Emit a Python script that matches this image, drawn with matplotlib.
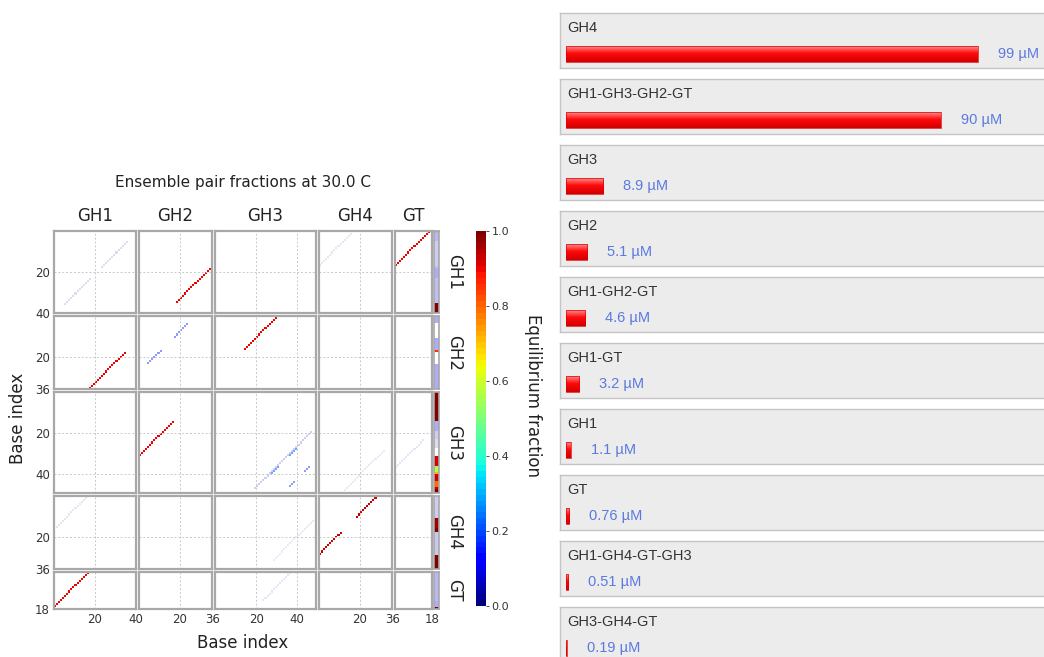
import numpy as np
import matplotlib.pyplot as plt
from matplotlib.cm import ScalarMappable
from matplotlib.colors import Normalize
from matplotlib.patches import Rectangle

# strands in the test tube and their lengths (nt)
strands = ["GH1", "GH2", "GH3", "GH4", "GT"]
lengths = [40, 36, 49, 36, 18]
ticks = [[20, 40], [20, 36], [20, 40], [20, 36], [18]]

# helices: (strand a, first base on a, strand b, last base on b, length, pair fraction)
helices = [
    ("GH1", 1, "GT", 17, 17, 0.9),
    ("GH1", 18, "GH2", 36, 18, 0.9),
    ("GH2", 1, "GH3", 31, 17, 0.9),
    ("GH4", 1, "GH4", 29, 11, 0.93),
    ("GH1", 6, "GH1", 36, 13, 0.03),
    ("GH1", 2, "GH4", 16, 16, 0.02),
    ("GH2", 5, "GH2", 24, 7, 0.15),
    ("GH3", 20, "GH3", 47, 14, 0.05),
    ("GH3", 28, "GH3", 40, 4, 0.22),
    ("GH3", 37, "GH3", 46, 3, 0.15),
    ("GH3", 24, "GT", 14, 14, 0.02),
    ("GH4", 13, "GH3", 48, 20, 0.015),
]

# complex concentrations (uM)
complexes = ["GH4", "GH1-GH3-GH2-GT", "GH3", "GH2", "GH1-GH2-GT",
             "GH1-GT", "GH1", "GT", "GH1-GH4-GT-GH3", "GH3-GH4-GT"]
conc = [99, 90, 8.9, 5.1, 4.6, 3.2, 1.1, 0.76, 0.51, 0.19]
conc_labels = ["99 µM", "90 µM", "8.9 µM", "5.1 µM", "4.6 µM",
               "3.2 µM", "1.1 µM", "0.76 µM", "0.51 µM", "0.19 µM"]

W, H = 1044, 657
fig = plt.figure(figsize=(W / 100, H / 100), dpi=100)


def box(x, y, w, h):
    return [x / W, 1 - (y + h) / H, w / W, h / H]


# ---- pair fraction matrix ----
offs = dict(zip(strands, np.cumsum([0] + lengths[:-1])))
N = sum(lengths)
P = np.zeros((N, N))
for a, sa, b, eb, n, p in helices:
    for k in range(n):
        i = offs[a] + sa - 1 + k
        j = offs[b] + eb - 1 - k
        P[i, j] = P[j, i] = p
unpaired = np.clip(1 - P.sum(axis=1), 0, 1)

cmap = plt.get_cmap("jet", 64)
norm = Normalize(0, 1)


def to_rgba(v):
    c = cmap(norm(v))
    c[..., 3] = np.clip(v / 0.5, 0, 1) ** 0.7
    return c


rgba = to_rgba(P)
strip = to_rgba(unpaired)

s = 2.045
gap = 3
x0, y0 = 54, 231
pos = [0]
for L in lengths[:-1]:
    pos.append(pos[-1] + L * s + gap)

frame = "#a8a8a8"
for r, (nr, Lr) in enumerate(zip(strands, lengths)):
    for c, (nc, Lc) in enumerate(zip(strands, lengths)):
        ax = fig.add_axes(box(x0 + pos[c], y0 + pos[r], Lc * s, Lr * s))
        blk = rgba[offs[nr]:offs[nr] + Lr, offs[nc]:offs[nc] + Lc]
        ax.imshow(blk, extent=(0, Lc, Lr, 0), interpolation="nearest", aspect="auto")
        ax.set_xlim(0, Lc)
        ax.set_ylim(Lr, 0)
        ax.set_xticks(ticks[c])
        ax.set_yticks(ticks[r])
        ax.grid(True, ls=(0, (2, 2)), color="#c8c8c8", lw=0.7)
        ax.tick_params(length=0, labelsize=8.5, colors="#333333", pad=3)
        if r != len(strands) - 1:
            ax.set_xticklabels([])
        if c != 0:
            ax.set_yticklabels([])
        for sp in ax.spines.values():
            sp.set_color(frame)
            sp.set_linewidth(1.6)
    # unpaired fraction strip next to each row
    sx = fig.add_axes(box(434, y0 + pos[r], 5, Lr * s))
    sx.imshow(strip[offs[nr]:offs[nr] + Lr, None], extent=(0, 1, Lr, 0),
              interpolation="nearest", aspect="auto")
    sx.set_xlim(0, 1)
    sx.set_ylim(Lr, 0)
    sx.set_xticks([])
    sx.set_yticks([])
    for sp in sx.spines.values():
        sp.set_color(frame)
        sp.set_linewidth(1.2)
    fig.text(454 / W, 1 - (y0 + pos[r] + Lr * s / 2) / H, nr, rotation=270,
             ha="center", va="center", fontsize=12, color="#222222")
    fig.text((x0 + pos[r] + Lr * s / 2) / W, 1 - 216 / H, nr,
             ha="center", va="center", fontsize=12, color="#222222")

fig.text(243 / W, 1 - 183 / H, "Ensemble pair fractions at 30.0 C",
         ha="center", va="center", fontsize=11, color="#222222")
fig.text(243 / W, 1 - 643 / H, "Base index", ha="center", va="center",
         fontsize=12, color="#222222")
fig.text(18 / W, 1 - 418 / H, "Base index", ha="center", va="center",
         rotation=90, fontsize=12, color="#222222")

cax = fig.add_axes(box(476, 231, 10, 375))
cb = fig.colorbar(ScalarMappable(norm=norm, cmap=cmap), cax=cax)
cb.outline.set_visible(False)
cb.set_ticks([0, 0.2, 0.4, 0.6, 0.8, 1.0])
cb.set_ticklabels(["0.0", "0.2", "0.4", "0.6", "0.8", "1.0"])
cax.tick_params(labelsize=8, length=2, width=0.6, colors="#333333", pad=2)
fig.text(533 / W, 1 - 396 / H, "Equilibrium fraction", rotation=270,
         ha="center", va="center", fontsize=12, color="#222222")

# ---- complex concentration list ----
px_per = 412 / 99
bw = 500
# vertical shading of the bars: light top, red middle, darker bottom
t = np.linspace(0, 1, 32)
stops = np.array([0.0, 0.45, 1.0])
shade = np.array([(1.0, 0.55, 0.55), (1.0, 0.04, 0.04), (0.82, 0.0, 0.0)])
grad = np.stack([np.interp(t, stops, shade[:, ch]) for ch in range(3)], axis=-1)[:, None, :]

for k, (name, v, lab) in enumerate(zip(complexes, conc, conc_labels)):
    top = 13 + 66 * k
    ax = fig.add_axes(box(560, top, bw, 55))
    ax.set_facecolor("#ececec")
    ax.imshow(grad, extent=(0, v, 49, 33), aspect="auto", interpolation="bilinear")
    ax.add_patch(Rectangle((0, 33), v, 16, fill=False, ec="#e00000", lw=0.5))
    ax.set_xlim(-6 / px_per, (bw - 6) / px_per)
    ax.set_ylim(55, 0)
    ax.set_xticks([])
    ax.set_yticks([])
    for sp in ax.spines.values():
        sp.set_color("#c4c4c4")
        sp.set_linewidth(1.0)
    ax.text(1 / px_per, 15, name, ha="left", va="center", fontsize=10.5,
            family="Liberation Sans", color="#333333")
    ax.text(v + 20 / px_per, 41, lab, ha="left", va="center", fontsize=10.5,
            family="Liberation Sans", color="#5a7ae0")

fig.savefig("out.png", dpi=100)
